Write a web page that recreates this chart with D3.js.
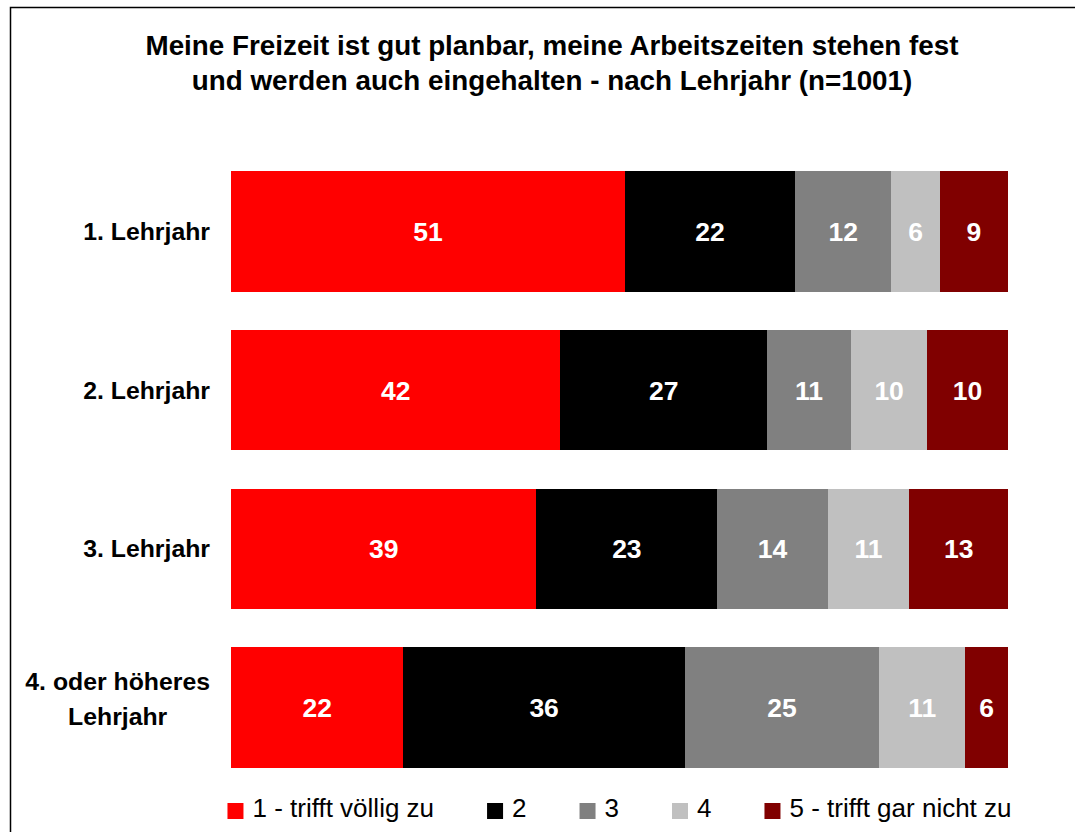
<!DOCTYPE html>
<html>
<head>
<meta charset="utf-8">
<script src="https://cdn.jsdelivr.net/npm/d3@7"></script>
<style>
  html, body { margin: 0; padding: 0; background: #fff; }
  svg { display: block; }
  text { font-family: "Liberation Sans", Arial, Helvetica, sans-serif; }
</style>
</head>
<body>
<svg id="chart" width="1075" height="832"></svg>
<script>
// ---- data ----
const titleLines = [
  "Meine Freizeit ist gut planbar, meine Arbeitszeiten stehen fest",
  "und werden auch eingehalten - nach Lehrjahr (n=1001)"
];
const categories = ["1. Lehrjahr", "2. Lehrjahr", "3. Lehrjahr", "4. oder höheres\nLehrjahr"];
const seriesNames = ["1 - trifft völlig zu", "2", "3", "4", "5 - trifft gar nicht zu"];
const s1 = [50.7, 42.4, 39.3, 22.2];
const s2 = [21.9, 26.6, 23.3, 36.2];
const s3 = [12.4, 10.8, 14.2, 25.0];
const s4 = [6.2, 9.8, 10.5, 11.1];
const s5 = [8.8, 10.4, 12.7, 5.5];
const seriesColors = ["#FF0000", "#000000", "#808080", "#C0C0C0", "#800000"];

// ---- build table ----
const seriesValues = [s1, s2, s3, s4, s5];
const rows = categories.map((c, i) => {
  const r = { cat: c };
  seriesNames.forEach((s, j) => r[s] = seriesValues[j][i]);
  return r;
});
const stacked = d3.stack().keys(seriesNames)(rows);

const svg = d3.select("#chart");

// frame
svg.append("path")
  .attr("d", "M10.5,1200 L10.5,7.5 L2000,7.5")
  .attr("fill", "none").attr("stroke", "#000").attr("stroke-width", 1.5);

// title
svg.append("g").selectAll("text").data(titleLines).join("text")
  .attr("x", 552).attr("y", (d, i) => 55 + i * 35)
  .attr("text-anchor", "middle")
  .attr("font-size", "27.8px").attr("font-weight", "bold").attr("fill", "#000")
  .text(d => d);

// scales
const x = d3.scaleLinear().domain([0, 100]).range([231, 1008]);
const y = d3.scaleBand().domain(categories).range([171, 768]).paddingInner(0.24).paddingOuter(0);

// bars
const layers = svg.append("g").selectAll("g").data(stacked).join("g")
  .attr("fill", (d, i) => seriesColors[i]);
layers.selectAll("rect").data(d => d).join("rect")
  .attr("x", d => x(d[0]))
  .attr("width", d => x(d[1]) - x(d[0]))
  .attr("y", d => y(d.data.cat))
  .attr("height", y.bandwidth())
  .attr("shape-rendering", "crispEdges");

// value labels
const lab = svg.append("g").selectAll("g").data(stacked).join("g");
lab.selectAll("text").data(d => d).join("text")
  .attr("x", d => (x(d[0]) + x(d[1])) / 2)
  .attr("y", d => y(d.data.cat) + y.bandwidth() / 2 + 9.5)
  .attr("text-anchor", "middle")
  .attr("font-size", "26.5px").attr("font-weight", "bold").attr("fill", "#fff")
  .text(d => Math.round(d[1] - d[0]));

// category labels
const labelRight = 210;
const catG = svg.append("g").selectAll("g").data(categories).join("g");
catG.each(function(c) {
  const g = d3.select(this);
  const lines = c.split("\n");
  const n = lines.length;
  const cy = y(c) + y.bandwidth() / 2;
  const texts = g.selectAll("text").data(lines).join("text")
    .attr("font-size", "24.8px").attr("font-weight", "bold").attr("fill", "#000")
    .attr("y", (d, i) => cy + 8.5 + (i - (n - 1) / 2) * 35 - (n - 1) * 9)
    .text(d => d);
  let maxW = 0;
  texts.each(function() { maxW = Math.max(maxW, this.getComputedTextLength()); });
  texts.attr("text-anchor", "middle").attr("x", labelRight - maxW / 2);
});

// legend
const legend = svg.append("g");
const items = legend.selectAll("g").data(seriesNames).join("g");
items.append("rect").attr("width", 16).attr("height", 16).attr("y", 803)
  .attr("fill", (d, i) => seriesColors[i]);
items.append("text").attr("y", 817).attr("font-size", "26px").attr("fill", "#000")
  .text(d => d);
const sqW = 16, txtGap = 9, itemGap = 53;
let widths = [];
items.select("text").each(function() { widths.push(this.getComputedTextLength()); });
const total = d3.sum(widths) + seriesNames.length * (sqW + txtGap) + (seriesNames.length - 1) * itemGap;
let cx = (x(0) + x(100)) / 2 - total / 2;
items.each(function(d, i) {
  const g = d3.select(this);
  g.select("rect").attr("x", cx);
  g.select("text").attr("x", cx + sqW + txtGap);
  cx += sqW + txtGap + widths[i] + itemGap;
});
</script>
</body>
</html>
